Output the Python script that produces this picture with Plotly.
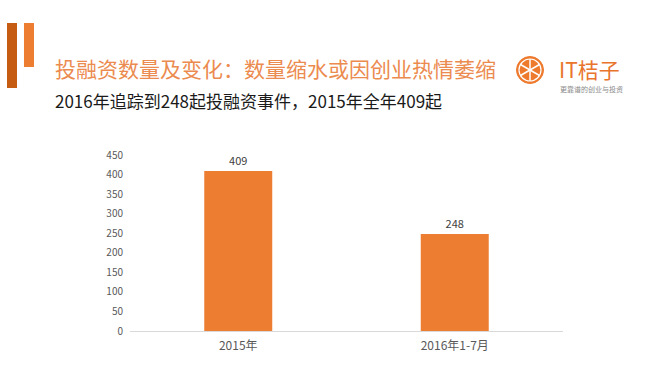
import math
import plotly.graph_objects as go

categories = ["2015年", "2016年1-7月"]
deals = [409, 248]
y_ticks = [0, 50, 100, 150, 200, 250, 300, 350, 400, 450]

title_text = "投融资数量及变化：数量缩水或因创业热情萎缩"
subtitle_text = "2016年追踪到248起投融资事件，2015年全年409起"
logo_text = "IT桔子"
logo_sub = "更靠谱的创业与投资"

W, H = 656, 392
L, R, T, B = 130, 93, 155, 61
PW, PH = W - L - R, H - T - B
FONT = "Noto Sans CJK SC, Microsoft YaHei, sans-serif"
ORANGE = "#ED7D31"


def px(x):
    return (x - L) / PW


def py(y):
    return (H - B - y) / PH


fig = go.Figure()
fig.add_trace(go.Bar(
    x=categories, y=deals, marker_color=ORANGE, marker_line_width=0,
    text=[str(v) for v in deals], textposition="outside",
    textfont=dict(size=11, color="#404040", family=FONT),
    cliponaxis=False, width=0.314,
))

shapes = []
# decorative bars top-left
shapes.append(dict(type="rect", xref="paper", yref="paper",
                   x0=px(7), x1=px(17), y0=py(88), y1=py(23),
                   fillcolor="#C65B12", line_width=0, layer="above"))
shapes.append(dict(type="rect", xref="paper", yref="paper",
                   x0=px(24), x1=px(34), y0=py(67), y1=py(23),
                   fillcolor="#ED7D31", line_width=0, layer="above"))
# logo circle
cx, cy, r = 530, 70, 13.5
shapes.append(dict(type="circle", xref="paper", yref="paper",
                   x0=px(cx - r), x1=px(cx + r), y0=py(cy + r), y1=py(cy - r),
                   fillcolor="#EE7A2E", line=dict(color="#EE7A2E", width=1), layer="above"))
ri = r - 2.5
shapes.append(dict(type="circle", xref="paper", yref="paper",
                   x0=px(cx - ri), x1=px(cx + ri), y0=py(cy + ri), y1=py(cy - ri),
                   fillcolor="rgba(0,0,0,0)", line=dict(color="white", width=1.2), layer="above"))
for ang in (90, 30, 150):
    a = math.radians(ang)
    dx, dy = ri * math.cos(a), ri * math.sin(a)
    shapes.append(dict(type="line", xref="paper", yref="paper",
                       x0=px(cx - dx), x1=px(cx + dx), y0=py(cy + dy), y1=py(cy - dy),
                       line=dict(color="white", width=1.5), layer="above"))

annotations = [
    dict(text=title_text, xref="paper", yref="paper", x=px(53), y=py(68),
         xanchor="left", yanchor="middle", showarrow=False,
         font=dict(size=21, color="#EC8B4F", family=FONT)),
    dict(text=subtitle_text, xref="paper", yref="paper", x=px(53), y=py(100),
         xanchor="left", yanchor="middle", showarrow=False,
         font=dict(size=17, color="#1a1a1a", family=FONT)),
    dict(text=logo_text, xref="paper", yref="paper", x=px(557), y=py(69),
         xanchor="left", yanchor="middle", showarrow=False,
         font=dict(size=21, color="#E9742B", family=FONT)),
    dict(text=logo_sub, xref="paper", yref="paper", x=px(558), y=py(89),
         xanchor="left", yanchor="middle", showarrow=False,
         font=dict(size=7, color="#8a8a8a", family=FONT)),
]

fig.update_layout(
    width=W, height=H,
    margin=dict(l=L, r=R, t=T, b=B),
    paper_bgcolor="white", plot_bgcolor="white",
    showlegend=False,
    shapes=shapes, annotations=annotations,
    font=dict(family=FONT),
    xaxis=dict(showline=True, linecolor="#D9D9D9", linewidth=1, showgrid=False,
               ticks="", tickfont=dict(size=12, color="#595959", family=FONT),
               ticklabelstandoff=4, fixedrange=True),
    yaxis=dict(range=[0, 450], tickvals=y_ticks, showgrid=False, zeroline=False,
               showline=False, ticks="", tickfont=dict(size=10, color="#595959", family=FONT),
               ticklabelstandoff=6, fixedrange=True),
)

fig.write_html("out.html", config={"displayModeBar": False},
               post_script="document.body.style.margin='0';document.body.style.overflow='hidden';")
